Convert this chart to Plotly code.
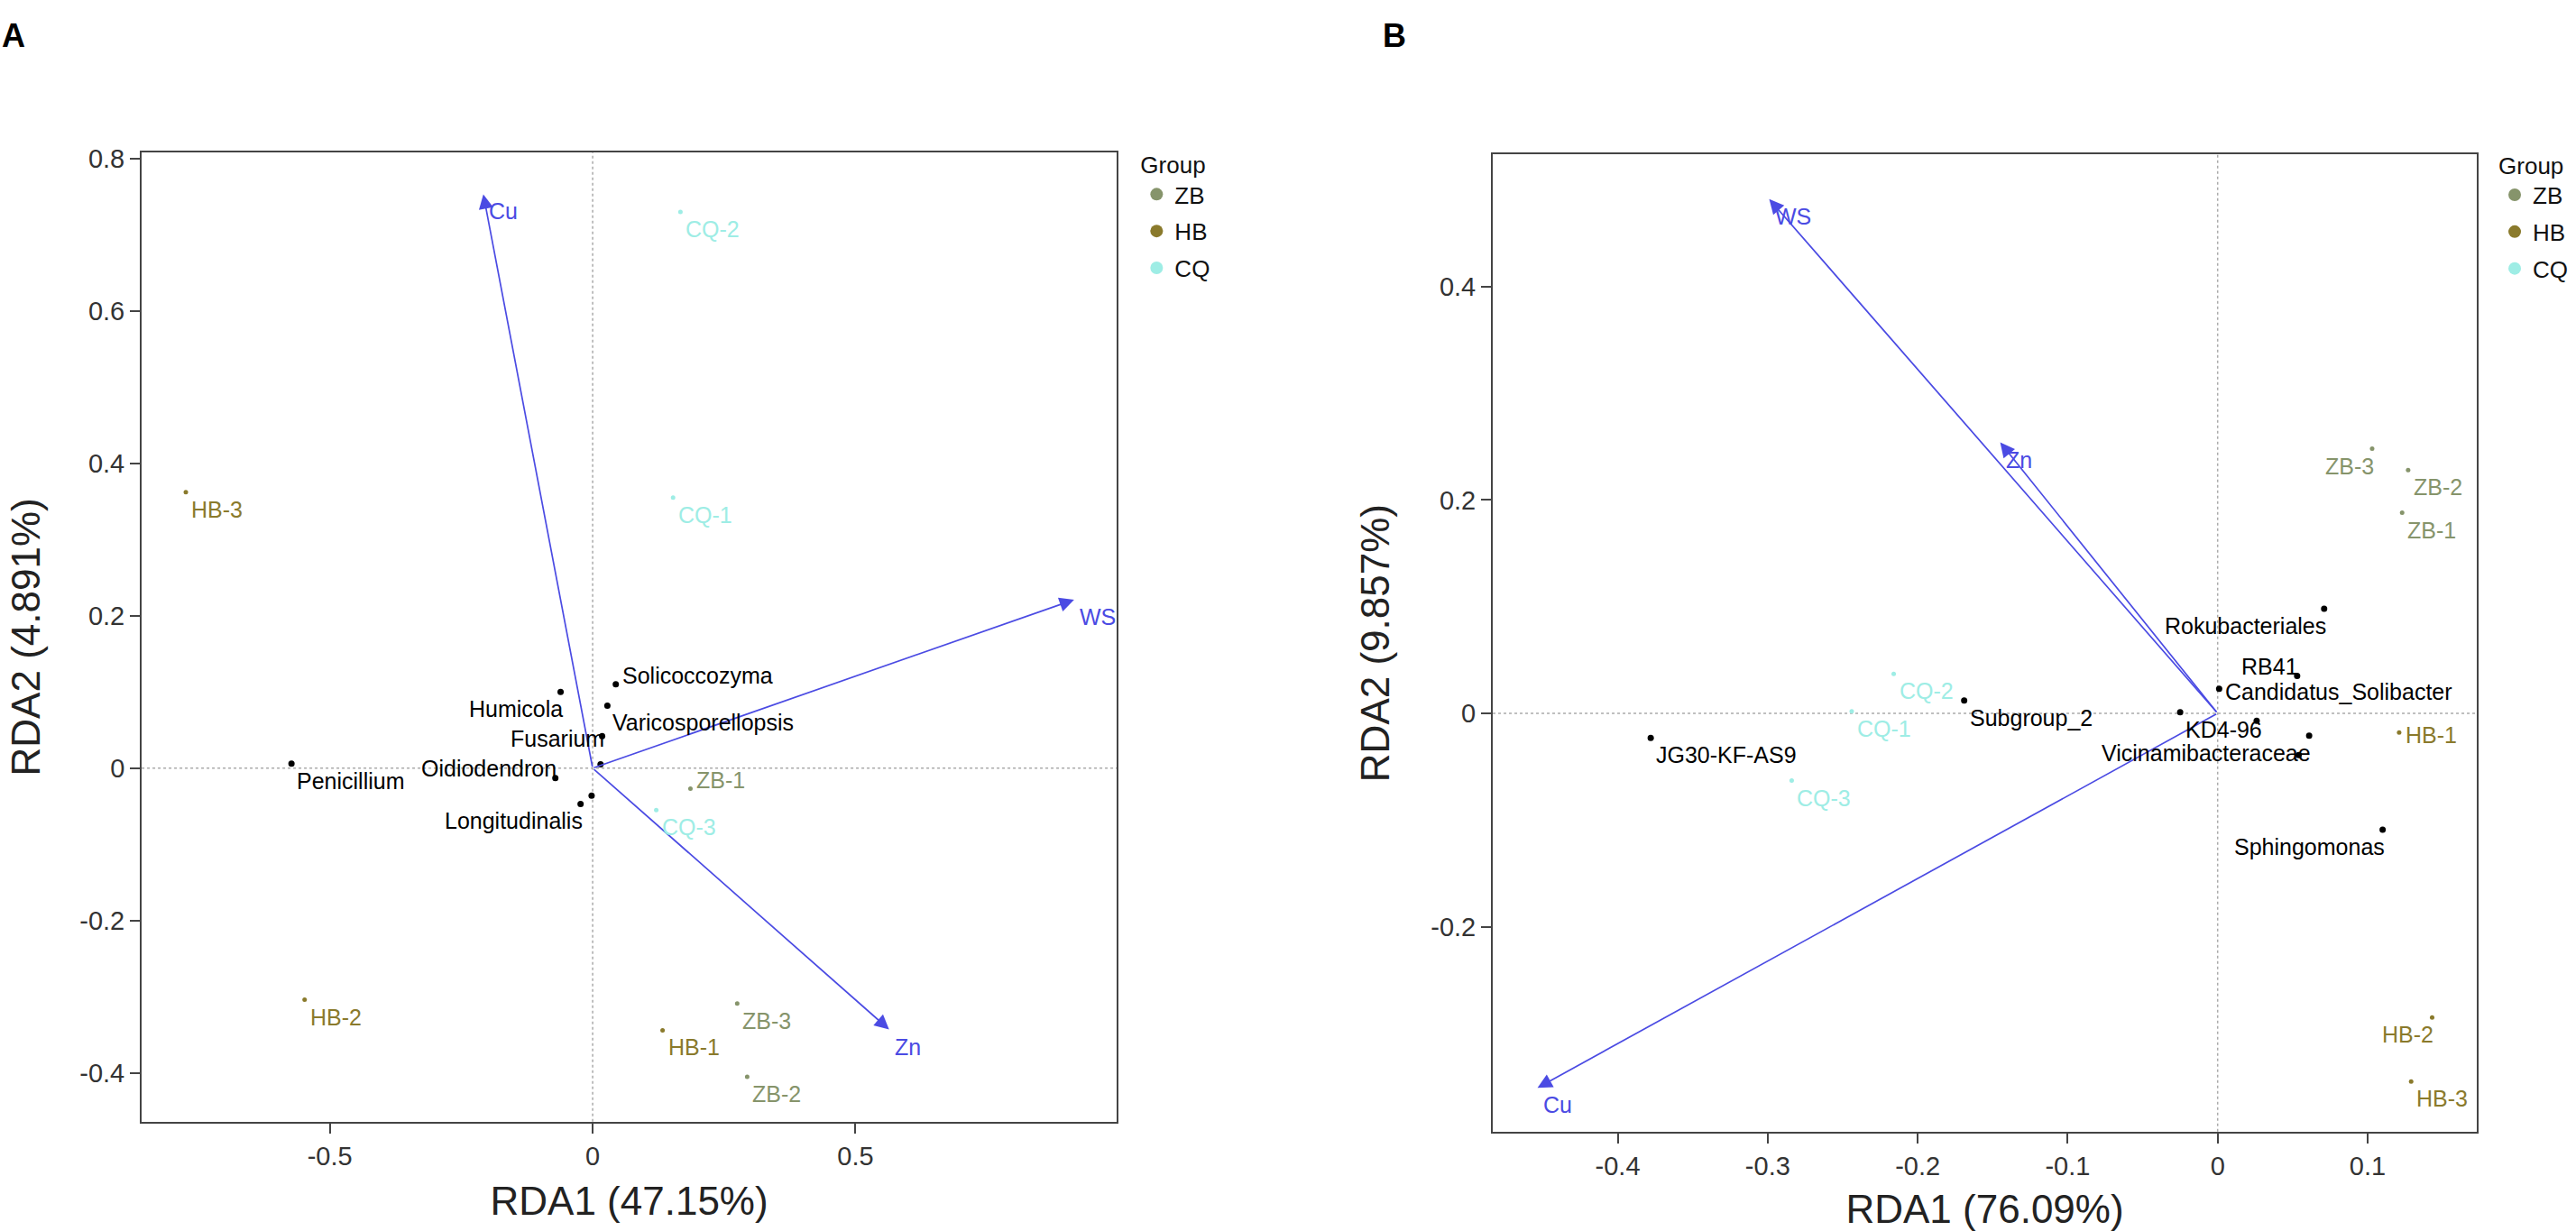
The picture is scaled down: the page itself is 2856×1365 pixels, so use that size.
import plotly.graph_objects as go

FONT = "Liberation Sans, Arial, sans-serif"

# ---------------- panel A (fungi) ----------------
a_samples = ["ZB-1", "ZB-2", "ZB-3", "HB-1", "HB-2", "HB-3", "CQ-1", "CQ-2", "CQ-3"]
a_samples_x = [0.186, 0.294, 0.275, 0.133, -0.548, -0.774, 0.153, 0.167, 0.121]
a_samples_y = [-0.027, -0.405, -0.309, -0.344, -0.304, 0.362, 0.355, 0.730, -0.055]

a_taxa = ["Penicillium", "Humicola", "Solicoccozyma", "Varicosporellopsis", "Fusarium",
          "", "Oidiodendron", "", "Longitudinalis"]
a_taxa_x = [-0.573, -0.061, 0.044, 0.028, 0.018, 0.015, -0.071, -0.002, -0.023]
a_taxa_y = [0.006, 0.100, 0.110, 0.082, 0.042, 0.005, -0.013, -0.036, -0.047]

a_env = ["Cu", "WS", "Zn"]
a_env_x = [-0.208, 0.916, 0.564]
a_env_y = [0.753, 0.221, -0.343]

# ---------------- panel B (bacteria) ----------------
b_samples = ["ZB-1", "ZB-2", "ZB-3", "HB-1", "HB-2", "HB-3", "CQ-1", "CQ-2", "CQ-3"]
b_samples_x = [0.123, 0.127, 0.103, 0.121, 0.143, 0.129, -0.244, -0.216, -0.284]
b_samples_y = [0.188, 0.228, 0.248, -0.018, -0.285, -0.345, 0.002, 0.037, -0.063]

b_taxa = ["Rokubacteriales", "RB41", "Candidatus_Solibacter", "Subgroup_2", "KD4-96",
          "", "Vicinamibacteraceae", "", "Sphingomonas", "JG30-KF-AS9"]
b_taxa_x = [0.071, 0.053, 0.001, -0.169, -0.025, 0.026, 0.061, 0.054, 0.110, -0.378]
b_taxa_y = [0.098, 0.035, 0.023, 0.012, 0.001, -0.007, -0.021, -0.039, -0.109, -0.023]

b_env = ["Cu", "WS", "Zn"]
b_env_x = [-0.4535, -0.299, -0.145]
b_env_y = [-0.351, 0.482, 0.254]

groups = ["ZB", "HB", "CQ"]
group_colors = {"ZB": "#86946B", "HB": "#8A7A2C", "CQ": "#9EEDE5"}
arrow_color = "#4B4BE3"

# label placement next to its point (ggrepel-like)
OFFSETS = {
    "rb": ("left", "top", 4, -3),
    "lb": ("right", "top", 4, -3),
    "rm": ("left", "middle", 5, -3),
    "lm": ("right", "middle", 4, -3),
    "ru": ("left", "middle", 5, 10),
    "lu": ("right", "middle", 3, 11),
}
a_place = {"ZB-1": "ru", "Humicola": "lb", "Solicoccozyma": "ru", "Fusarium": "lm",
           "Oidiodendron": "lu", "Longitudinalis": "lb"}
b_place = {"ZB-3": "lb", "HB-1": "rm", "HB-2": "lb", "Rokubacteriales": "lb", "RB41": "lu",
           "Candidatus_Solibacter": "rm", "Vicinamibacteraceae": "lb", "Sphingomonas": "lb"}


def label(x, y, text, color, xr, yr, pos):
    xa, ya, dx, dy = OFFSETS[pos]
    return dict(x=x, y=y, xref=xr, yref=yr, text=text, showarrow=False,
                xanchor=xa, yanchor=ya, xshift=dx, yshift=dy,
                font=dict(family=FONT, size=25, color=color))


fig = go.Figure()
annotations = []
shapes = []

panels = [
    ("x", "y", "legend", a_samples, a_samples_x, a_samples_y, a_taxa, a_taxa_x, a_taxa_y,
     a_env, a_env_x, a_env_y, a_place),
    ("x2", "y2", "legend2", b_samples, b_samples_x, b_samples_y, b_taxa, b_taxa_x, b_taxa_y,
     b_env, b_env_x, b_env_y, b_place),
]

for xr, yr, leg, smp, sx, sy, tax, tx, ty, env, ex, ey, place in panels:
    # zero reference lines
    shapes.append(dict(type="line", xref=xr, yref=yr + " domain", x0=0, x1=0, y0=0, y1=1,
                       line=dict(color="#AAAAAA", width=1.5, dash="dot"), layer="below"))
    shapes.append(dict(type="line", xref=xr + " domain", yref=yr, x0=0, x1=1, y0=0, y1=0,
                       line=dict(color="#AAAAAA", width=1.5, dash="dot"), layer="below"))

    # environmental arrows
    for name, x, y in zip(env, ex, ey):
        annotations.append(dict(x=x, y=y, ax=0, ay=0, xref=xr, yref=yr, axref=xr, ayref=yr,
                                text="", showarrow=True, arrowhead=2, arrowsize=1.9,
                                arrowwidth=1.7, arrowcolor=arrow_color, standoff=0))
        annotations.append(label(x, y, name, arrow_color, xr, yr, place.get(name, "rb")))

    # taxa
    fig.add_trace(go.Scatter(x=tx, y=ty, mode="markers", xaxis=xr, yaxis=yr,
                             marker=dict(color="black", size=7), showlegend=False,
                             hovertext=tax, hoverinfo="text"))
    for name, x, y in zip(tax, tx, ty):
        if name:
            annotations.append(label(x, y, name, "black", xr, yr, place.get(name, "rb")))

    # samples by group
    for g in groups:
        idx = [i for i, s in enumerate(smp) if s.startswith(g)]
        fig.add_trace(go.Scatter(x=[sx[i] for i in idx], y=[sy[i] for i in idx],
                                 mode="markers", name=g, xaxis=xr, yaxis=yr,
                                 marker=dict(color=group_colors[g], size=5), showlegend=False,
                                 hovertext=[smp[i] for i in idx], hoverinfo="text"))
        # legend entry with a bigger key
        fig.add_trace(go.Scatter(x=[None], y=[None], mode="markers", name=g, xaxis=xr, yaxis=yr,
                                 legend=leg, legendgroup=leg + g,
                                 marker=dict(color=group_colors[g], size=14)))
        for i in idx:
            annotations.append(label(sx[i], sy[i], smp[i], group_colors[g], xr, yr,
                                     place.get(smp[i], "rb")))

# panel letters
annotations.append(dict(x=0.0, y=1.0, xref="paper", yref="paper", text="<b>A</b>",
                        showarrow=False, xanchor="left", yanchor="top", yshift=-8,
                        font=dict(family=FONT, size=36, color="black")))
annotations.append(dict(x=0.536, y=1.0, xref="paper", yref="paper", text="<b>B</b>",
                        showarrow=False, xanchor="left", yanchor="top", yshift=-8,
                        font=dict(family=FONT, size=36, color="black")))

axis_common = dict(showline=True, mirror=True, linecolor="#444444", linewidth=2,
                   ticks="outside", ticklen=11, tickwidth=2, tickcolor="#444444",
                   showgrid=False, zeroline=False,
                   tickfont=dict(family=FONT, size=29, color="#333333"))
title_font = dict(family=FONT, size=44, color="#222222")

legend_common = dict(xanchor="left", yanchor="top", tracegroupgap=4,
                     bgcolor="rgba(0,0,0,0)",
                     font=dict(family=FONT, size=26, color="#111111"),
                     title=dict(text="Group", font=dict(family=FONT, size=26, color="#111111")))

fig.update_layout(
    width=2856, height=1365,
    margin=dict(l=0, r=0, t=0, b=0),
    paper_bgcolor="white", plot_bgcolor="white",
    xaxis=dict(domain=[0.0550, 0.4335], range=[-0.858, 0.997],
               tickvals=[-0.5, 0, 0.5], ticktext=["-0.5", "0", "0.5"],
               title=dict(text="RDA1 (47.15%)", font=title_font, standoff=20),
               anchor="y", **axis_common),
    yaxis=dict(domain=[0.0894, 0.8820], range=[-0.464, 0.808],
               tickvals=[-0.4, -0.2, 0, 0.2, 0.4, 0.6, 0.8],
               ticktext=["-0.4", "-0.2", "0", "0.2", "0.4", "0.6", "0.8"],
               title=dict(text="RDA2 (4.891%)", font=title_font, standoff=30),
               anchor="x", **axis_common),
    xaxis2=dict(domain=[0.5795, 0.9615], range=[-0.4833, 0.1728],
                tickvals=[-0.4, -0.3, -0.2, -0.1, 0, 0.1],
                ticktext=["-0.4", "-0.3", "-0.2", "-0.1", "0", "0.1"],
                title=dict(text="RDA1 (76.09%)", font=title_font, standoff=20),
                anchor="y2", **axis_common),
    yaxis2=dict(domain=[0.0813, 0.8802], range=[-0.392, 0.5237],
                tickvals=[-0.2, 0, 0.2, 0.4], ticktext=["-0.2", "0", "0.2", "0.4"],
                title=dict(text="RDA2 (9.857%)", font=title_font, standoff=32),
                anchor="x2", **axis_common),
    legend=dict(x=0.4420, y=0.8900, **legend_common),
    legend2=dict(x=0.9692, y=0.8895, **legend_common),
    annotations=annotations,
    shapes=shapes,
)

fig.write_html("out.html", config={"displayModeBar": False},
               post_script="document.body.style.margin='0';")
